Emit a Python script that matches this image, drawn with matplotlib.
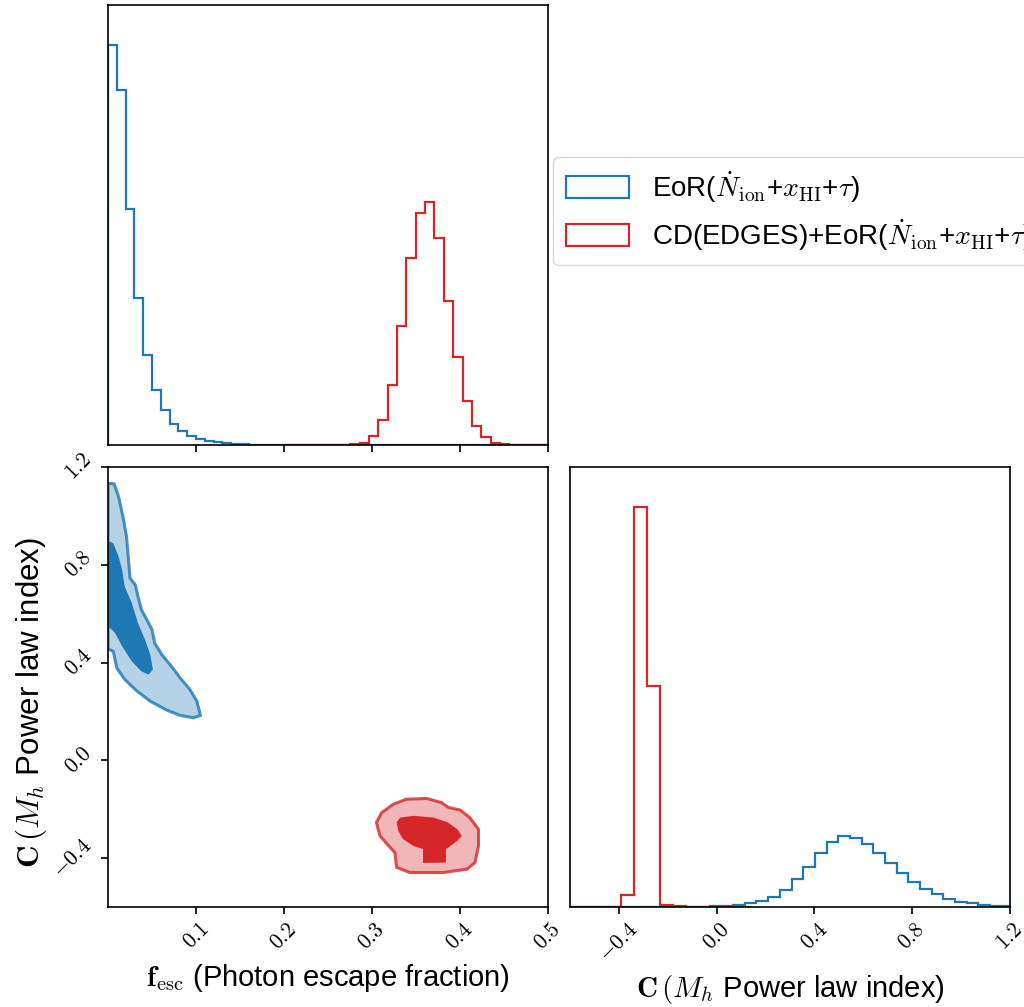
import numpy as np
import matplotlib
matplotlib.use("Agg")
import matplotlib.pyplot as plt
from matplotlib.patches import Patch

plt.rcParams['font.family'] = ['Liberation Sans', 'DejaVu Sans']
plt.rcParams['mathtext.fontset'] = 'cm'

BLUE = '#1f77b4'
RED = '#d62728'

# ---------------- data ----------------
# f_esc marginal (top-left)
fesc_blue_start, fesc_blue_width = 0.0, 0.01
fesc_blue_vals = [400, 355, 236, 147, 90, 55, 35, 21, 14, 9,
                  6, 4, 2.7, 1.7, 1.0, 0.7, 0.5, 0.3, 0.2, 0.1,
                  0.1, 0.05, 0, 0, 0, 0, 0, 0, 0, 0,
                  0, 0, 0, 0, 0, 0, 0, 0, 0, 0,
                  0, 0, 0, 0, 0, 0, 0, 0, 0, 0]
fesc_red_start, fesc_red_width = 0.2009, 0.01063
fesc_red_vals = [0, 0, 0, 0, 0, 0, 0.3, 0.7, 2, 8.7, 25, 60, 119, 187, 232, 243,
                 207, 144, 88, 44, 19, 8, 2, 0.7, 0.3, 0.1, 0, 0]

# C marginal (bottom-right)
C_blue_start, C_blue_width = -0.602, 0.0478
C_blue_vals = [0, 0, 0, 0, 0, 0, 0, 0, 0, 0.1, 0.2, 0.3, 0.6,
               1.0, 2.0, 3.7, 5.8, 9.9, 17.3, 27.9, 40.4, 53.7, 64.6, 71.4,
               69.3, 62.9, 54.0, 44.5, 34.0, 25.1, 17.7, 12.6, 8.2, 5.4,
               3.7, 2.4, 1.4, 0.7]
C_red_start, C_red_width = -0.606, 0.0535
C_red_vals = [0, 0, 0, 0, 11.6, 400.5, 221, 1.7, 0.7, 0.3, 0.2, 0.1, 0, 0]

# 2D credible contours (f_esc, C)
blue_outer_f = [0.0, 0.002, 0.007, 0.012, 0.017, 0.021, 0.023, 0.025, 0.031, 0.034,
                0.038, 0.044, 0.050, 0.053, 0.061, 0.072, 0.082, 0.093, 0.101, 0.105,
                0.097, 0.082, 0.067, 0.048, 0.033, 0.019, 0.010, 0.006, 0.0015, 0.0]
blue_outer_C = [1.133, 1.133, 1.131, 1.079, 0.997, 0.916, 0.834, 0.746, 0.718, 0.671,
                0.616, 0.576, 0.535, 0.480, 0.433, 0.385, 0.337, 0.290, 0.242, 0.184,
                0.174, 0.184, 0.205, 0.242, 0.283, 0.331, 0.378, 0.446, 0.453, 0.453]
blue_inner_f = [0.0, 0.002, 0.006, 0.012, 0.016, 0.019, 0.027, 0.034, 0.042, 0.048,
                0.051, 0.046, 0.038, 0.027, 0.016, 0.008, 0.002, 0.0]
blue_inner_C = [0.895, 0.895, 0.888, 0.834, 0.780, 0.711, 0.644, 0.562, 0.494, 0.433,
                0.371, 0.351, 0.364, 0.405, 0.467, 0.521, 0.542, 0.542]
red_outer_f = [0.305, 0.311, 0.324, 0.339, 0.362, 0.379, 0.387, 0.400, 0.411, 0.421,
               0.421, 0.417, 0.408, 0.381, 0.343, 0.328, 0.326, 0.319, 0.309]
red_outer_C = [-0.254, -0.214, -0.180, -0.159, -0.156, -0.173, -0.193, -0.203, -0.234, -0.282,
               -0.350, -0.418, -0.445, -0.459, -0.459, -0.438, -0.377, -0.350, -0.309]
red_inner_f = [0.328, 0.332, 0.347, 0.370, 0.386, 0.397, 0.402, 0.397, 0.387, 0.384,
               0.384, 0.358, 0.358, 0.347, 0.335, 0.330]
red_inner_C = [-0.254, -0.234, -0.227, -0.234, -0.254, -0.282, -0.309, -0.329, -0.356, -0.363,
               -0.418, -0.420, -0.363, -0.350, -0.322, -0.289]

fesc_ticks = [0.1, 0.2, 0.3, 0.4, 0.5]
fesc_ticklabels = ['$0.1$', '$0.2$', '$0.3$', '$0.4$', '$0.5$']
C_ticks = [-0.4, 0.0, 0.4, 0.8, 1.2]
C_ticklabels = ['$-0.4$', '$0.0$', '$0.4$', '$0.8$', '$1.2$']

legend_labels = [r'EoR($\dot{N}_{\rm ion}$+$x_{\rm HI}$+$\tau$)',
                 r'CD(EDGES)+EoR($\dot{N}_{\rm ion}$+$x_{\rm HI}$+$\tau$)']

xlabel_f = r'$\mathbf{f}_{\rm esc}$ (Photon escape fraction)'
label_C = r'$\mathbf{C}\,(M_h$ Power law index)'

# ---------------- figure ----------------
W, H = 1024, 1007
fig = plt.figure(figsize=(W / 100, H / 100), dpi=100)

def px_axes(x0, y0, x1, y1):
    return fig.add_axes([x0 / W, 1 - y1 / H, (x1 - x0) / W, (y1 - y0) / H])

ax_top = px_axes(108, 5, 548, 445)
ax_2d = px_axes(108, 467, 548, 907)
ax_rt = px_axes(570, 467, 1010, 907)

TICK_FS = 15.5
LABEL_FS = 21
LW = 1.6

def edges(start, width, n):
    return start + width * np.arange(n + 1)

# top-left histogram
ax_top.stairs(fesc_blue_vals, edges(fesc_blue_start, fesc_blue_width, len(fesc_blue_vals)),
              color=BLUE, lw=LW)
ax_top.stairs(fesc_red_vals, edges(fesc_red_start, fesc_red_width, len(fesc_red_vals)),
              color=RED, lw=LW)
ax_top.set_xlim(0, 0.5)
ax_top.set_ylim(0, 1.1 * max(max(fesc_blue_vals), max(fesc_red_vals)))
ax_top.set_yticks([])
ax_top.set_xticks(fesc_ticks)
ax_top.set_xticklabels([])

# 2D contours
ax_2d.fill(blue_outer_f, blue_outer_C, facecolor=BLUE, alpha=0.33, edgecolor='none')
ax_2d.fill(blue_outer_f, blue_outer_C, facecolor='none', edgecolor=BLUE, alpha=0.8, lw=2.2)
ax_2d.fill(blue_inner_f, blue_inner_C, facecolor=BLUE, edgecolor='none')
ax_2d.fill(red_outer_f, red_outer_C, facecolor=RED, alpha=0.33, edgecolor='none')
ax_2d.fill(red_outer_f, red_outer_C, facecolor='none', edgecolor=RED, alpha=0.8, lw=2.2)
ax_2d.fill(red_inner_f, red_inner_C, facecolor=RED, edgecolor='none')
ax_2d.set_xlim(0, 0.5)
ax_2d.set_ylim(-0.6, 1.2)
ax_2d.set_xticks(fesc_ticks)
ax_2d.set_xticklabels(fesc_ticklabels, rotation=45, fontsize=TICK_FS)
ax_2d.set_yticks(C_ticks)
ax_2d.set_yticklabels(C_ticklabels, rotation=45, fontsize=TICK_FS, va='center')
ax_2d.set_xlabel(xlabel_f, fontsize=LABEL_FS)
ax_2d.set_ylabel(label_C, fontsize=22.5)
ax_2d.xaxis.set_label_coords(0.5, -0.125)
ax_2d.yaxis.set_label_coords(-0.135, 0.465)

# bottom-right histogram
ax_rt.stairs(C_blue_vals, edges(C_blue_start, C_blue_width, len(C_blue_vals)),
             color=BLUE, lw=LW)
ax_rt.stairs(C_red_vals, edges(C_red_start, C_red_width, len(C_red_vals)),
             color=RED, lw=LW)
ax_rt.set_xlim(-0.6, 1.2)
ax_rt.set_ylim(0, 1.1 * max(max(C_blue_vals), max(C_red_vals)))
ax_rt.set_yticks([])
ax_rt.set_xticks(C_ticks)
ax_rt.set_xticklabels(C_ticklabels, rotation=45, fontsize=TICK_FS)
ax_rt.set_xlabel(label_C, fontsize=LABEL_FS)
ax_rt.xaxis.set_label_coords(0.5, -0.15)

for ax in (ax_top, ax_2d, ax_rt):
    ax.tick_params(direction='out', length=5, width=1.2)
    for s in ax.spines.values():
        s.set_linewidth(1.2)

handles = [Patch(facecolor='none', edgecolor=BLUE, lw=1.6),
           Patch(facecolor='none', edgecolor=RED, lw=1.6)]
fig.legend(handles, legend_labels, loc='upper left',
           bbox_to_anchor=(553 / W, 1 - 157 / H), fontsize=20,
           handlelength=2.3, handleheight=0.85, handletextpad=0.8,
           labelspacing=0.45, borderpad=0.45,
           borderaxespad=0.0, frameon=True)

fig.savefig('out.png', dpi=100)
